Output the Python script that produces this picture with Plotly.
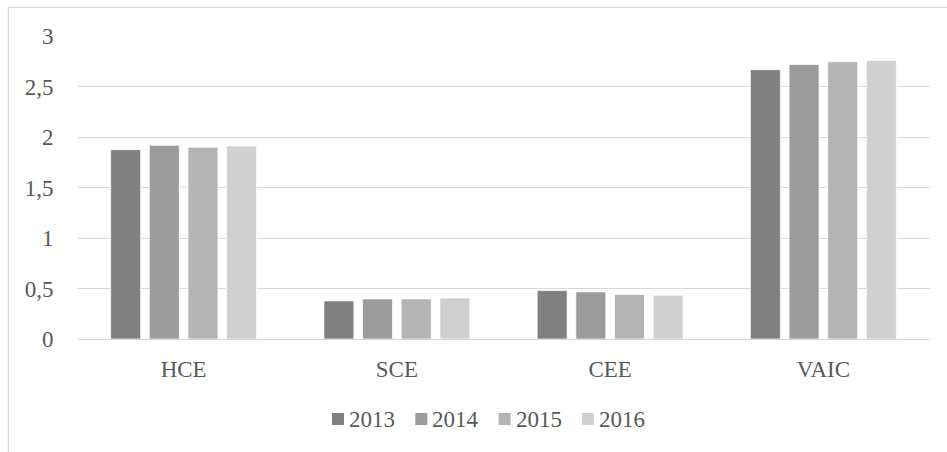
import plotly.graph_objects as go

# Indicator categories and yearly values
categories = ["HCE", "SCE", "CEE", "VAIC"]
years = ["2013", "2014", "2015", "2016"]
values_2013 = [1.875, 0.377, 0.479, 2.666]
values_2014 = [1.918, 0.397, 0.466, 2.718]
values_2015 = [1.898, 0.397, 0.440, 2.745]
values_2016 = [1.911, 0.407, 0.433, 2.758]
series = [values_2013, values_2014, values_2015, values_2016]
colors = ["#808080", "#9b9b9b", "#b4b4b4", "#d0d0d0"]
y_ticks = [0, 0.5, 1, 1.5, 2, 2.5, 3]

W, H = 947, 452
ML, MR, MT, MB = 77, 17, 36, 113
plot_w = W - ML - MR
plot_h = H - MT - MB

FONT = "Liberation Serif"
FSIZE = 23
TEXT = "#595959"
GRID = "#d9d9d9"

fig = go.Figure()
for name, vals, col in zip(years, series, colors):
    fig.add_trace(go.Bar(
        x=categories, y=vals, name=name, showlegend=False,
        marker=dict(color=col, line=dict(color="rgba(255,255,255,0.7)", width=1)),
    ))

# pixel -> paper coordinate helpers
def px_x(p):
    return (p - ML) / plot_w

def px_y(p):
    return (H - MB - p) / plot_h

# outer chart frame
fig.add_shape(type="rect", xref="paper", yref="paper",
              x0=px_x(8.3), x1=px_x(949), y0=px_y(455), y1=px_y(7.3),
              line=dict(color=GRID, width=1.3), fillcolor="rgba(0,0,0,0)", layer="below")

# compact legend row below the axis: small swatch followed closely by the year
LEG_X0, LEG_PITCH, LEG_Y, SW = 332, 83.3, 419, 12
for i, (name, col) in enumerate(zip(years, colors)):
    x0 = LEG_X0 + i * LEG_PITCH
    fig.add_shape(type="rect", xref="paper", yref="paper",
                  x0=px_x(x0), x1=px_x(x0 + SW),
                  y0=px_y(LEG_Y + SW / 2), y1=px_y(LEG_Y - SW / 2),
                  line=dict(width=0), fillcolor=col)
    fig.add_annotation(xref="paper", yref="paper", x=px_x(x0 + SW + 3), y=px_y(LEG_Y),
                       xanchor="left", yanchor="middle", showarrow=False, text=name,
                       font=dict(family=FONT, size=FSIZE, color=TEXT))

fig.update_layout(
    width=W, height=H,
    margin=dict(l=ML, r=MR, t=MT, b=MB),
    paper_bgcolor="white", plot_bgcolor="white",
    separators=", ",
    barmode="group", bargap=0.275, bargroupgap=0.225,
    font=dict(family=FONT, size=FSIZE, color=TEXT),
    xaxis=dict(showgrid=False, showline=True, linecolor=GRID, linewidth=1.3,
               ticks="outside", ticklen=9, tickcolor="rgba(0,0,0,0)",
               tickfont=dict(family=FONT, size=FSIZE, color=TEXT)),
    yaxis=dict(range=[0, 3], tickvals=y_ticks, showgrid=True, gridcolor=GRID, gridwidth=1.3,
               zeroline=False, showline=False,
               ticks="outside", ticklen=18, tickcolor="rgba(0,0,0,0)",
               tickfont=dict(family=FONT, size=FSIZE, color=TEXT)),
)

fig.write_html("out.html")
